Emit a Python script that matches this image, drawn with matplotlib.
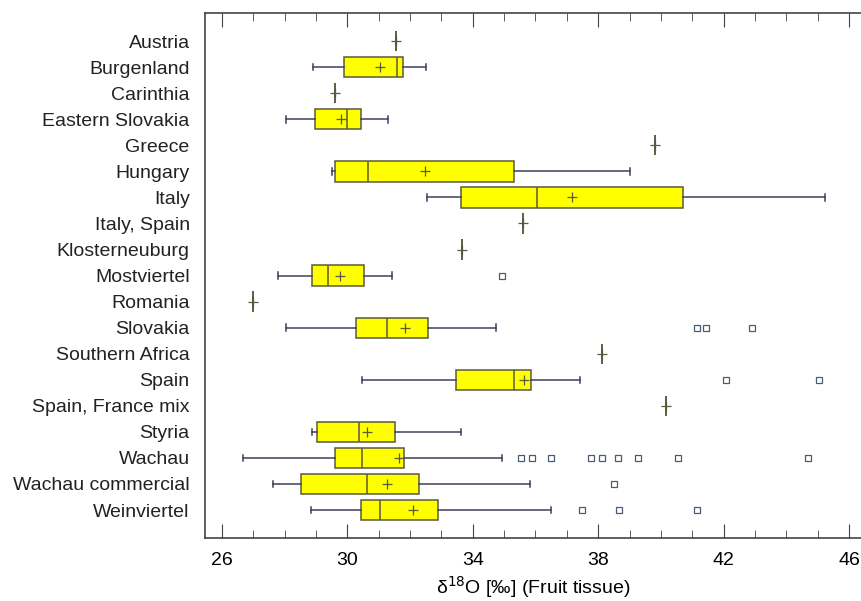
import numpy as np
import matplotlib
matplotlib.use("Agg")
import matplotlib.pyplot as plt
from matplotlib.ticker import MultipleLocator

plt.rcParams["font.family"] = ["Liberation Sans", "DejaVu Sans"]

regions = ["Austria", "Burgenland", "Carinthia", "Eastern Slovakia", "Greece",
           "Hungary", "Italy", "Italy, Spain", "Klosterneuburg", "Mostviertel",
           "Romania", "Slovakia", "Southern Africa", "Spain", "Spain, France mix",
           "Styria", "Wachau", "Wachau commercial", "Weinviertel"]

# five-number summaries
whislo = [31.55, 28.92, 29.61, 28.06, 39.80, 29.52, 32.55, 35.61, 33.65, 27.78,
          26.99, 28.04, 38.12, 30.46, 40.16, 28.88, 26.66, 27.63, 28.83]
q1 = [31.55, 29.90, 29.61, 28.97, 39.80, 29.60, 33.63, 35.61, 33.65, 28.87,
      26.99, 30.29, 38.12, 33.46, 40.16, 29.03, 29.62, 28.51, 30.43]
median = [31.55, 31.57, 29.61, 29.98, 39.80, 30.67, 36.05, 35.61, 33.65, 29.40,
          26.99, 31.27, 38.12, 35.31, 40.16, 30.37, 30.46, 30.62, 31.04]
q3 = [31.55, 31.77, 29.61, 30.44, 39.80, 35.33, 40.69, 35.61, 33.65, 30.53,
      26.99, 32.58, 38.12, 35.86, 40.16, 31.51, 31.82, 32.30, 32.88]
whishi = [31.55, 32.51, 29.61, 31.30, 39.80, 39.00, 45.23, 35.61, 33.65, 31.42,
          26.99, 34.73, 38.12, 37.41, 40.16, 33.63, 34.93, 35.81, 36.48]
means = [31.55, 31.04, 29.61, 29.81, 39.80, 32.47, 37.18, 35.61, 33.65, 29.76,
         26.99, 31.85, 38.12, 35.63, 40.16, 30.63, 31.65, 31.27, 32.08]
outliers = [[], [], [], [], [], [], [], [], [], [34.93],
            [], [41.14, 41.43, 42.89], [], [42.07, 45.05], [], [],
            [35.53, 35.88, 36.49, 37.77, 38.13, 38.63, 39.28, 40.55, 44.69],
            [38.50], [37.48, 38.65, 41.16]]

stats = []
for i, name in enumerate(regions):
    stats.append(dict(label=name, whislo=whislo[i], q1=q1[i], med=median[i],
                      q3=q3[i], whishi=whishi[i], mean=means[i],
                      fliers=outliers[i]))

fig = plt.figure(figsize=(8.61, 6.01), dpi=100)
ax = fig.add_axes([0.238, 0.105, 0.762, 0.873])

pos = np.arange(len(regions))
ax.bxp(stats, positions=pos, widths=0.78, orientation="horizontal",
       showmeans=True, patch_artist=True, capwidths=0.25,
       boxprops=dict(facecolor="#ffff00", edgecolor="#5a5a3c", linewidth=1.1),
       medianprops=dict(color="#5a5a3c", linewidth=1.1),
       whiskerprops=dict(color="#3e3e5c", linewidth=1.1),
       capprops=dict(color="#3e3e5c", linewidth=1.1),
       meanprops=dict(marker="+", markeredgecolor="#5a5a3c", markersize=7,
                      markeredgewidth=0.9),
       flierprops=dict(marker="s", markerfacecolor="none",
                       markeredgecolor="#4a5a7a", markersize=4,
                       markeredgewidth=0.9))

ax.set_ylim(len(regions) - 1 + 1.07, -1.07)
ax.set_xlim(25.46, 46.38)
ax.set_yticks(pos)
ax.set_yticklabels(regions, fontsize=14, color="#222222")
ax.tick_params(axis="y", length=0, pad=11)

ax.xaxis.set_major_locator(MultipleLocator(4))
ax.xaxis.set_minor_locator(MultipleLocator(1))
ax.tick_params(axis="x", which="both", direction="in", top=True,
               color="#444444", labelsize=14, pad=10)
ax.tick_params(axis="x", which="major", length=10)
ax.tick_params(axis="x", which="minor", length=6)
ax.set_xticks([26, 30, 34, 38, 42, 46])
ax.set_xlabel("δ$^{18}$O [‰] (Fruit tissue)", fontsize=14, labelpad=4)

for side in ["left", "top", "bottom"]:
    ax.spines[side].set_color("#444444")
    ax.spines[side].set_linewidth(1.2)
ax.spines["right"].set_visible(False)

fig.savefig("out.png", dpi=100)
